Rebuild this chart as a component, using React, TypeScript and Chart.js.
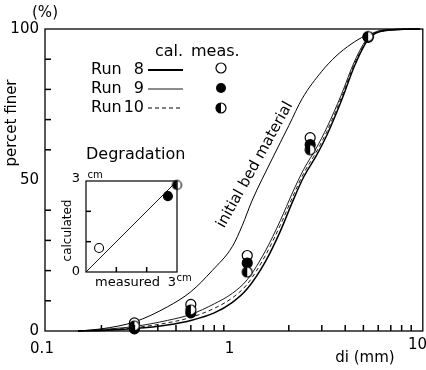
import React, { useEffect, useRef } from "react";
import { Chart, registerables } from "chart.js";
Chart.register(...registerables);

// ---------- main chart data ----------
const initialSizes = [0.15, 0.2, 0.3, 0.45, 0.6, 0.78, 1.0, 1.13, 1.27, 1.63, 2.0, 2.36, 3.0, 3.57, 4.3, 5.1, 6.0, 7.0, 10];
const initialFiner = [0, 0.7, 3, 8, 13, 20, 28, 35, 43, 57, 68, 77, 86, 91, 95, 97.7, 99, 99.6, 100];

const runSizes = [0.15, 0.2, 0.3, 0.45, 0.6, 0.8, 1.0, 1.2, 1.5, 1.8, 2.1, 2.4, 2.8, 3.2, 3.8, 4.5, 5.3, 6.5, 10];
const run8Calc = [0, 0.2, 0.8, 2, 3.5, 6, 9.5, 14, 23, 33, 43, 51, 58, 65, 76, 88, 96.5, 99.5, 100];
const run9Calc = [0, 0.5, 1.5, 3.5, 5.5, 9, 12.5, 17, 26.5, 36.5, 46, 53.5, 60.5, 67.5, 78, 89.5, 97.2, 99.7, 100];
const run10Calc = [0, 0.3, 1.1, 2.7, 4.5, 7.5, 11, 15.5, 25, 35, 44.5, 52.2, 59.2, 66.2, 77, 88.7, 96.8, 99.6, 100];

const measSizes = [0.3, 0.6, 1.2, 2.6, 5.3];
const run8Meas = [2.7, 8.8, 25, 64, 97.3];
const run9Meas = [0.7, 6, 22.5, 61.7, 97.3];
const run10Meas = [1.7, 7, 19.5, 60, 97.5];

const yLabels = [0, 50, 100];
const yMinor = [10, 20, 30, 40, 60, 70, 80, 90];
const xLabels = [0.1, 1, 10];
const xMinor = [0.2, 0.3, 0.4, 0.5, 0.6, 0.7, 0.8, 0.9, 2, 3, 4, 5, 6, 7, 8, 9];

// ---------- inset (Degradation) data ----------
const degMeasured = [0.43, 2.7, 3.0];
const degCalculated = [0.79, 2.5, 2.87];
const equalLine = [0, 3];
const degTicks = [1, 2];

const FONT = "'DejaVu Sans', sans-serif";

function halfMarker(r: number) {
  const c = document.createElement("canvas");
  const s = Math.ceil(2 * r + 4);
  c.width = s;
  c.height = s;
  const g = c.getContext("2d")!;
  const cx = s / 2, cy = s / 2;
  g.beginPath(); g.arc(cx, cy, r, 0, 2 * Math.PI); g.fillStyle = "#fff"; g.fill();
  g.beginPath(); g.arc(cx, cy, r, Math.PI / 2, (3 * Math.PI) / 2); g.closePath(); g.fillStyle = "#000"; g.fill();
  g.beginPath(); g.arc(cx, cy, r, 0, 2 * Math.PI); g.lineWidth = 1.2; g.strokeStyle = "#000"; g.stroke();
  return c;
}

const pts = (xs: number[], ys: number[]) => xs.map((x, i) => ({ x, y: ys[i] }));

export default function App() {
  const mainRef = useRef<HTMLCanvasElement>(null);
  const insetRef = useRef<HTMLCanvasElement>(null);

  useEffect(() => {
    document.body.style.margin = "0";
    const half5 = halfMarker(5);
    const half45 = halfMarker(4.5);

    const mainFrame = {
      id: "mainFrame",
      afterDraw(chart: any) {
        const { ctx, chartArea: a, scales } = chart;
        const sx = scales.x, sy = scales.y;
        ctx.save();
        ctx.strokeStyle = "#000";
        ctx.fillStyle = "#000";
        ctx.lineWidth = 1.3;
        ctx.strokeRect(a.left, a.top, a.right + 3 - a.left, a.bottom - a.top);
        for (const v of yMinor) {
          const py = sy.getPixelForValue(v);
          ctx.fillRect(a.left, py - 0.75, 6, 1.5);
        }
        for (const v of xMinor) {
          const px = sx.getPixelForValue(v);
          ctx.fillRect(px - 0.75, a.bottom - 6, 1.5, 6);
        }
        ctx.font = `15px ${FONT}`;
        ctx.textAlign = "right";
        ctx.textBaseline = "middle";
        yLabels.forEach((v) => ctx.fillText(String(v), a.left - 6, sy.getPixelForValue(v)));
        xLabels.forEach((v, i) => {
          const px = sx.getPixelForValue(v);
          if (i === xLabels.length - 1) { ctx.textAlign = "right"; ctx.fillText(String(v), 427, 345); }
          else { ctx.textAlign = "center"; ctx.fillText(String(v), px - 3, 349); }
        });
        ctx.textAlign = "center";
        ctx.fillText("(%)", 45, 13);
        ctx.fillText("di (mm)", 365, 358);
        ctx.save();
        ctx.translate(12, 123);
        ctx.rotate(-Math.PI / 2);
        ctx.fillText("percet finer", 0, 0);
        ctx.restore();
        // rotated curve label
        ctx.save();
        ctx.translate(255, 165);
        ctx.rotate(-1.065);
        ctx.font = `15px ${FONT}`;
        ctx.fillText("initial bed material", 0, 0);
        ctx.restore();
        // legend
        ctx.font = `16px ${FONT}`;
        ctx.textAlign = "left";
        ctx.fillText("cal.", 155, 52);
        ctx.fillText("meas.", 191, 52);
        const rows = [["8", 70], ["9", 89], ["10", 108]] as const;
        rows.forEach(([n, ry]) => {
          ctx.textAlign = "left";
          ctx.fillText("Run", 91, ry);
          ctx.textAlign = "right";
          ctx.fillText(n, 144, ry);
        });
        ctx.beginPath(); ctx.lineWidth = 1.8; ctx.moveTo(148, 70); ctx.lineTo(183, 70); ctx.stroke();
        ctx.beginPath(); ctx.lineWidth = 0.9; ctx.moveTo(148, 89); ctx.lineTo(183, 89); ctx.stroke();
        ctx.beginPath(); ctx.lineWidth = 1; ctx.setLineDash([4, 3]); ctx.moveTo(148, 108); ctx.lineTo(183, 108); ctx.stroke();
        ctx.setLineDash([]);
        ctx.lineWidth = 1.2;
        ctx.beginPath(); ctx.arc(221, 68, 5, 0, 2 * Math.PI); ctx.fillStyle = "#fff"; ctx.fill(); ctx.stroke();
        ctx.beginPath(); ctx.arc(221, 88, 5, 0, 2 * Math.PI); ctx.fillStyle = "#000"; ctx.fill();
        ctx.drawImage(half5, 221 - half5.width / 2, 108 - half5.height / 2);
        ctx.fillStyle = "#000";
        ctx.font = `16px ${FONT}`;
        ctx.textAlign = "left";
        ctx.fillText("Degradation", 86, 155);
        ctx.restore();
      },
    };

    const lineDs = (label: string, xs: number[], ys: number[], width: number, dash: number[] = []) => ({
      type: "line" as const,
      label,
      data: pts(xs, ys),
      borderColor: "#000",
      borderWidth: width,
      borderDash: dash,
      pointRadius: 0,
      fill: false,
      showLine: true,
      cubicInterpolationMode: "monotone" as const,
      clip: false as any,
    });
    const markDs = (label: string, ys: number[], style: any, bg: string) => ({
      type: "scatter" as const,
      label,
      data: pts(measSizes, ys),
      pointStyle: style,
      pointRadius: 5,
      backgroundColor: bg,
      borderColor: "#000",
      borderWidth: 1.2,
      clip: false as any,
    });

    const main = new Chart(mainRef.current!, {
      type: "scatter",
      data: {
        datasets: [
          markDs("Run 10 meas.", run10Meas, half5, "#000"),
          markDs("Run 9 meas.", run9Meas, "circle", "#000"),
          markDs("Run 8 meas.", run8Meas, "circle", "#fff"),
          lineDs("initial bed material", initialSizes, initialFiner, 1),
          lineDs("Run 8 cal.", runSizes, run8Calc, 1.5),
          lineDs("Run 9 cal.", runSizes, run9Calc, 0.9),
          lineDs("Run 10 cal.", runSizes, run10Calc, 0.9, [4, 3]),
        ] as any,
      },
      options: {
        animation: false,
        responsive: false,
        events: [],
        layout: { padding: { left: 45, right: 2, top: 29, bottom: 39 } },
        scales: {
          x: { type: "logarithmic", min: 0.1, max: 10, display: false },
          y: { type: "linear", min: 0, max: 100, display: false },
        },
        plugins: { legend: { display: false }, tooltip: { enabled: false } },
      },
      plugins: [mainFrame],
    });

    const insetFrame = {
      id: "insetFrame",
      afterDraw(chart: any) {
        const { ctx, chartArea: a, scales } = chart;
        const sx = scales.x, sy = scales.y;
        ctx.save();
        ctx.strokeStyle = "#000";
        ctx.fillStyle = "#000";
        ctx.lineWidth = 1.2;
        ctx.strokeRect(a.left, a.top, a.right - a.left, a.bottom - a.top);
        for (const v of degTicks) {
          const px = sx.getPixelForValue(v);
          ctx.fillRect(px - 0.75, a.bottom - 5, 1.5, 5);
          const py = sy.getPixelForValue(v);
          ctx.fillRect(a.left, py - 0.75, 5, 1.5);
        }
        ctx.textAlign = "center";
        ctx.textBaseline = "middle";
        ctx.font = `13px ${FONT}`;
        ctx.fillText("3", a.left - 10, sy.getPixelForValue(3) - 2);
        ctx.fillText("0", a.left - 10, sy.getPixelForValue(0));
        ctx.fillText("3", sx.getPixelForValue(3) - 5, a.bottom + 11);
        ctx.fillText("measured", (a.left + a.right) / 2 - 4, a.bottom + 11);
        ctx.font = `10px ${FONT}`;
        ctx.fillText("cm", a.left + 9, sy.getPixelForValue(3) - 6);
        ctx.fillText("cm", sx.getPixelForValue(3) + 7, a.bottom + 6);
        ctx.font = `12px ${FONT}`;
        ctx.save();
        ctx.translate(a.left - 18, (a.top + a.bottom) / 2 + 4);
        ctx.rotate(-Math.PI / 2);
        ctx.fillText("calculated", 0, 0);
        ctx.restore();
        ctx.restore();
      },
    };

    const inset = new Chart(insetRef.current!, {
      type: "scatter",
      data: {
        datasets: [
          {
            type: "scatter",
            label: "Degradation",
            data: pts(degMeasured, degCalculated),
            pointStyle: ["circle", "circle", half45] as any,
            pointRadius: 4.5,
            backgroundColor: ["#fff", "#000", "#000"],
            borderColor: "#000",
            borderWidth: 1.1,
            clip: false as any,
          },
          {
            type: "line",
            label: "calculated = measured",
            data: pts(equalLine, equalLine),
            borderColor: "#000",
            borderWidth: 0.9,
            pointRadius: 0,
            showLine: true,
          },
        ] as any,
      },
      options: {
        animation: false,
        responsive: false,
        events: [],
        layout: { padding: { left: 26, right: 23, top: 31, bottom: 28 } },
        scales: {
          x: { type: "linear", min: 0, max: 3, display: false },
          y: { type: "linear", min: 0, max: 3, display: false },
        },
        plugins: { legend: { display: false }, tooltip: { enabled: false } },
      },
      plugins: [insetFrame],
    });

    return () => {
      main.destroy();
      inset.destroy();
    };
  }, []);

  return (
    <div style={{ position: "relative", width: 426, height: 370, background: "#fff" }}>
      <canvas ref={mainRef} width={426} height={370} style={{ position: "absolute", left: 0, top: 0 }} />
      <canvas ref={insetRef} width={140} height={150} style={{ position: "absolute", left: 60, top: 150 }} />
    </div>
  );
}
